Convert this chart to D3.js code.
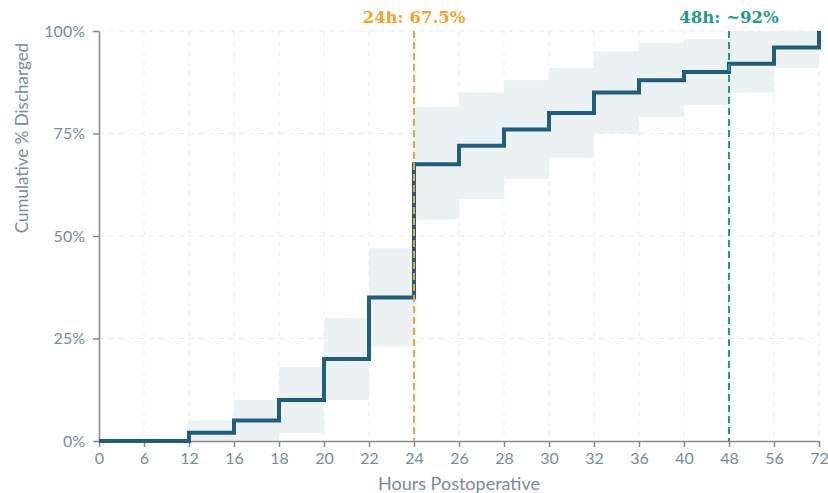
<!DOCTYPE html>
<html>
<head>
<meta charset="utf-8">
<script src="https://cdn.jsdelivr.net/npm/d3@7"></script>
<style>
  body { margin: 0; background: #fff; }
  svg { display: block; font-family: Lato, "Open Sans", sans-serif; }
  .axis path, .axis line { stroke: #8a8a8a; stroke-width: 1.5; }
  .axis text { fill: #7b8a9c; font-size: 16px; font-family: Lato, sans-serif; }
  .grid line { stroke: #e6ebf1; stroke-width: 1; stroke-dasharray: 5,5; }
</style>
</head>
<body>
<div id="chart"></div>
<script>
// ---- data ----
const hours = [0, 6, 12, 16, 18, 20, 22, 24, 26, 28, 30, 32, 36, 40, 48, 56, 72];
const discharged = [0, 0, 2, 5, 10, 20, 35, 67.5, 72, 76, 80, 85, 88, 90, 92, 96, 100];
const ciLower = [0, 0, 0, 0, 2, 10, 23, 54, 59, 64, 69, 75, 79, 82, 85, 91, 100];
const ciUpper = [0, 0, 5, 10, 18, 30, 47, 81.5, 85, 88, 91, 95, 97, 98, 100, 100, 100];
const yTicks = [0, 25, 50, 75, 100];
const markers = [
  { hour: 24, label: '24h: 67.5%', color: '#f5a425' },
  { hour: 48, label: '48h: ~92%', color: '#1e9e86' }
];

// ---- layout ----
const width = 828;
const height = 493;
const paddingLeft = 99;
const paddingRight = 9;
const paddingTop = 31;
const paddingBottom = 52;

const svg = d3.select('#chart').append('svg')
  .attr('width', width)
  .attr('height', height);

const xScale = d3.scalePoint()
  .domain(hours.map(String))
  .range([paddingLeft, width - paddingRight]);
const yScale = d3.scaleLinear()
  .domain([0, 100])
  .range([height - paddingBottom, paddingTop]);

// grid
const grid = svg.append('g').attr('class', 'grid');
grid.selectAll('.vgrid')
  .data(hours.slice(1))
  .enter().append('line')
  .attr('x1', (d) => xScale(String(d)))
  .attr('x2', (d) => xScale(String(d)))
  .attr('y1', paddingTop)
  .attr('y2', height - paddingBottom);
grid.selectAll('.hgrid')
  .data(yTicks.slice(1))
  .enter().append('line')
  .attr('x1', paddingLeft)
  .attr('x2', width - paddingRight)
  .attr('y1', (d) => yScale(d))
  .attr('y2', (d) => yScale(d));

// confidence band
const segs = hours.slice(0, -1).map((h, i) => ({
  x0: String(h), x1: String(hours[i + 1]), lo: ciLower[i], hi: ciUpper[i]
})).filter((d) => d.hi > d.lo);
svg.append('g').selectAll('rect')
  .data(segs)
  .enter().append('rect')
  .attr('x', (d) => xScale(d.x0))
  .attr('width', (d) => xScale(d.x1) - xScale(d.x0))
  .attr('y', (d) => yScale(d.hi))
  .attr('height', (d) => yScale(d.lo) - yScale(d.hi))
  .attr('fill', '#ecf1f4');

// axes
svg.append('g')
  .attr('class', 'axis')
  .attr('transform', `translate(0,${height - paddingBottom})`)
  .call(d3.axisBottom(xScale).tickSize(6).tickPadding(6).tickSizeOuter(0));
svg.append('g')
  .attr('class', 'axis')
  .attr('transform', `translate(${paddingLeft},0)`)
  .call(d3.axisLeft(yScale).tickValues(yTicks).tickFormat((d) => d + '%').tickSize(6).tickPadding(8).tickSizeOuter(0));

// step line
const line = d3.line()
  .x((d, i) => xScale(String(hours[i])))
  .y((d) => yScale(d))
  .curve(d3.curveStepAfter);
svg.append('path')
  .datum(discharged)
  .attr('d', line)
  .attr('fill', 'none')
  .attr('stroke', '#1f5f7b')
  .attr('stroke-width', 4);

// marker lines
svg.append('defs').append('clipPath')
  .attr('id', 'topClip')
  .append('rect')
  .attr('x', 0).attr('y', 11).attr('width', width).attr('height', 30);

const mk = svg.append('g');
mk.selectAll('line')
  .data(markers)
  .enter().append('line')
  .attr('x1', (d) => xScale(String(d.hour)))
  .attr('x2', (d) => xScale(String(d.hour)))
  .attr('y1', paddingTop)
  .attr('y2', height - paddingBottom)
  .attr('stroke', (d) => d.color)
  .attr('stroke-width', 2)
  .attr('stroke-dasharray', '7,4');
mk.append('g').attr('clip-path', 'url(#topClip)')
  .selectAll('text')
  .data(markers)
  .enter().append('text')
  .attr('x', (d) => xScale(String(d.hour)))
  .attr('y', 23)
  .attr('text-anchor', 'middle')
  .attr('fill', (d) => d.color)
  .style('font-family', '"DejaVu Serif", "Liberation Serif", serif')
  .style('font-size', '16.5px')
  .style('font-weight', 'bold')
  .text((d) => d.label);

// axis titles
svg.append('text')
  .attr('x', 459)
  .attr('y', 490)
  .attr('text-anchor', 'middle')
  .attr('fill', '#7b8a9c')
  .style('font-size', '18px')
  .text('Hours Postoperative');
svg.append('text')
  .attr('transform', 'translate(28,138) rotate(-90)')
  .attr('text-anchor', 'middle')
  .attr('fill', '#7b8a9c')
  .style('font-size', '17px')
  .text('Cumulative % Discharged');
</script>
</body>
</html>
